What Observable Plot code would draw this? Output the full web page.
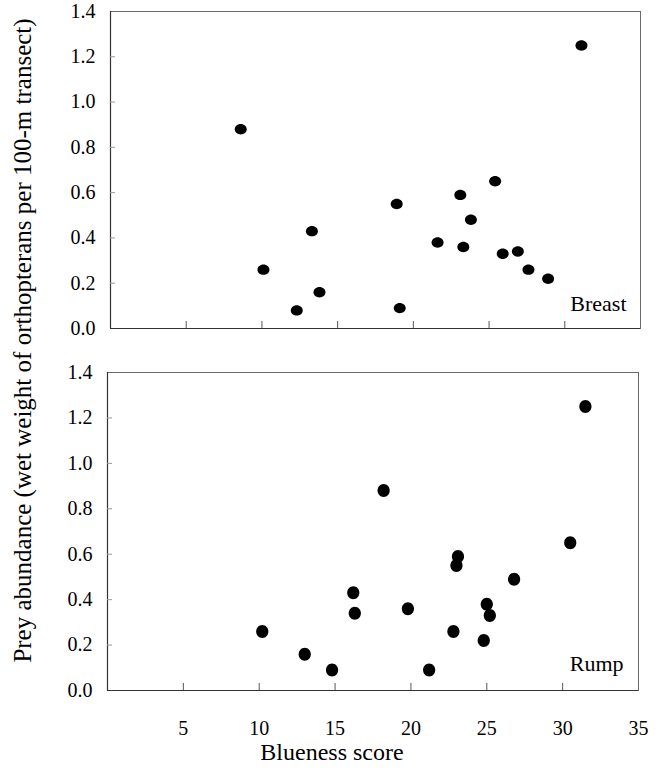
<!DOCTYPE html>
<html>
<head>
<meta charset="utf-8">
<script src="https://cdn.jsdelivr.net/npm/d3@7"></script>
<script src="https://cdn.jsdelivr.net/npm/@observablehq/plot@0.6"></script>
<style>
  html, body { margin: 0; padding: 0; background: #fff; }
  #chart { position: relative; width: 662px; height: 774px; font-family: "Liberation Serif", "Times New Roman", serif; color: #000; overflow: hidden; }
  #chart svg { position: absolute; left: 0; }
  .ylab { position: absolute; width: 700px; line-height: 25px; font-size: 25px; text-align: center; white-space: nowrap; left: -328px; top: 327.5px; transform: rotate(-90deg); transform-origin: 50% 50%; }
  .xlab { position: absolute; width: 300px; line-height: 18px; font-size: 24px; text-align: center; white-space: nowrap; left: 182px; top: 743px; }
</style>
</head>
<body>
<div id="chart"></div>
<script>
// ---- data ----
const panels = ["Breast", "Rump"];
const breastX = [8.6, 10.1, 12.3, 13.3, 13.8, 18.9, 19.1, 21.6, 23.1, 23.3, 23.8, 25.4, 25.9, 26.9, 27.6, 28.9, 31.1];
const breastY = [0.88, 0.26, 0.08, 0.43, 0.16, 0.55, 0.09, 0.38, 0.59, 0.36, 0.48, 0.65, 0.33, 0.34, 0.26, 0.22, 1.25];
const rumpX = [10.2, 13.0, 14.8, 16.2, 16.3, 18.2, 19.8, 21.2, 22.8, 23.0, 23.1, 24.8, 25.0, 25.2, 26.8, 30.5, 31.5];
const rumpY = [0.26, 0.16, 0.09, 0.43, 0.34, 0.88, 0.36, 0.09, 0.26, 0.55, 0.59, 0.22, 0.38, 0.33, 0.49, 0.65, 1.25];
const xTicks = [5, 10, 15, 20, 25, 30, 35];
const yTicks = [0, 0.2, 0.4, 0.6, 0.8, 1.0, 1.2, 1.4];
const xTitle = "Blueness score";
const yTitle = "Prey abundance (wet weight of orthopterans per 100-m transect)";

const breast = breastX.map((x, i) => ({x, y: breastY[i]}));
const rump = rumpX.map((x, i) => ({x, y: rumpY[i]}));

function ellipse(rx, ry) {
  const k = 0.5523;
  return {
    draw(ctx) {
      ctx.moveTo(rx, 0);
      ctx.bezierCurveTo(rx, ry * k, rx * k, ry, 0, ry);
      ctx.bezierCurveTo(-rx * k, ry, -rx, ry * k, -rx, 0);
      ctx.bezierCurveTo(-rx, -ry * k, -rx * k, -ry, 0, -ry);
      ctx.bezierCurveTo(rx * k, -ry, rx, -ry * k, rx, 0);
      ctx.closePath();
    }
  };
}

function panel(data, label, opts) {
  const {height, mt, mb, ml, mr, showX, sym, labelDx, labelDy} = opts;
  const W = 662 - ml - mr;
  const H = height - mt - mb;
  const marks = [
    Plot.frame({stroke: "#6a6a6a", strokeWidth: 1}),
    Plot.ruleX([0], {stroke: "#333", strokeWidth: 1.2}),
    Plot.ruleY([0], {stroke: "#333", strokeWidth: 1.2}),
    Plot.tickX(xTicks.filter(v => v < 35), {x: d => d, insetTop: H - 7, stroke: "#555", strokeWidth: 1}),
    Plot.tickY(yTicks.filter(v => v > 0 && v < 1.4), {y: d => d, insetRight: W - 5, stroke: "#999", strokeWidth: 1}),
    Plot.axisY({ticks: yTicks, tickSize: 0, tickPadding: 15, tickFormat: d3.format(".1f"), fontSize: 20, fill: "#000", label: null}),
    showX
      ? Plot.axisX({ticks: xTicks, tickSize: 0, tickPadding: 30, tickFormat: d3.format("d"), fontSize: 20, fill: "#000", label: null})
      : Plot.axisX({ticks: [], label: null}),
    Plot.dot(data, {x: "x", y: "y", fill: "#000", stroke: "none", symbol: sym}),
    Plot.text([label], {text: d => d, frameAnchor: "bottom-right", textAnchor: "end", dx: labelDx, dy: labelDy, fontSize: 22, fill: "#000"})
  ];
  return Plot.plot({
    width: 662,
    height,
    marginTop: mt,
    marginBottom: mb,
    marginLeft: ml,
    marginRight: mr,
    x: {domain: [0, 35]},
    y: {domain: [0, 1.4]},
    style: {fontFamily: "'Liberation Serif', 'Times New Roman', serif", fontSize: "20px", color: "#000", background: "transparent", overflow: "visible"},
    marks
  });
}

const chartEl = document.getElementById("chart");

const topPanel = panel(breast, panels[0], {height: 340, mt: 11, mb: 12, ml: 110, mr: 22, showX: false, sym: ellipse(6.0, 5.2), labelDx: -14, labelDy: -18});
topPanel.style.top = "0px";
chartEl.appendChild(topPanel);

const bottomPanel = panel(rump, panels[1], {height: 434, mt: 32, mb: 84, ml: 107, mr: 24, showX: true, sym: ellipse(6.1, 6.5), labelDx: -15, labelDy: -20});
bottomPanel.style.top = "340px";
chartEl.appendChild(bottomPanel);

const yl = document.createElement("div");
yl.className = "ylab";
yl.textContent = yTitle;
chartEl.appendChild(yl);

const xl = document.createElement("div");
xl.className = "xlab";
xl.textContent = xTitle;
chartEl.appendChild(xl);
</script>
</body>
</html>
